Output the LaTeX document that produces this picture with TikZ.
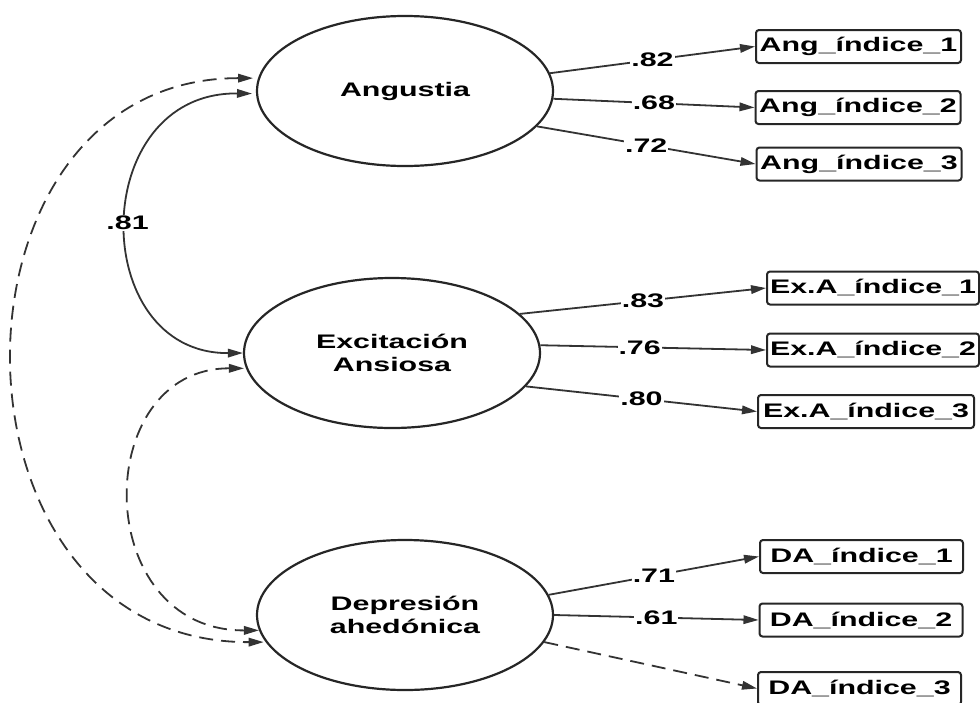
\documentclass[tikz,border=0pt]{standalone}
\usepackage{fontspec}
\setmainfont[FakeStretch=1.55]{Liberation Sans}
\usetikzlibrary{shapes.geometric,arrows.meta}
\begin{document}
\begin{tikzpicture}[x=1pt,y=-1pt,
  txt/.style={font=\bfseries\fontsize{19.6}{23}\selectfont},
  latent/.style={ellipse,draw=black!85,line width=2.2pt,minimum width=296pt,
    minimum height=150pt,inner sep=0pt,align=center,txt},
  ind/.style={draw=black!85,line width=2pt,rounded corners=3pt,
    minimum height=33pt,inner sep=0pt,txt},
  tip/.tip={Triangle[length=15pt,width=8.5pt]},
  load/.style={draw=black!80,line width=1.8pt,-tip},
  cov/.style={draw=black!80,line width=1.8pt,tip-tip},
  dsh/.style={dash pattern=on 14pt off 8pt},
  coef/.style={fill=white,inner sep=1pt,txt}
]
\useasboundingbox (0,0) rectangle (980,702);

% latent factors
\node[latent] (ang) at (405,91) {Angustia};
\node[latent] (exc) at (392,353) {Excitación\\Ansiosa};
\node[latent] (dep) at (405,615) {Depresión\\ahedónica};

% indicators
\node[ind,minimum width=205pt] (a1) at (858.5,46.5) {Ang\_índice\_1};
\node[ind,minimum width=205pt] (a2) at (858,107.5) {Ang\_índice\_2};
\node[ind,minimum width=205pt] (a3) at (859,164) {Ang\_índice\_3};
\node[ind,minimum width=212pt] (e1) at (873,288) {Ex.A\_índice\_1};
\node[ind,minimum width=212pt] (e2) at (873,350) {Ex.A\_índice\_2};
\node[ind,minimum width=216pt] (e3) at (866,411.5) {Ex.A\_índice\_3};
\node[ind,minimum width=203pt] (d1) at (861.5,556.5) {DA\_índice\_1};
\node[ind,minimum width=203pt] (d2) at (861,620) {DA\_índice\_2};
\node[ind,minimum width=203pt] (d3) at (859.5,688.5) {DA\_índice\_3};

% factor loadings
\draw[load] (ang.7.7) -- node[coef] {.82} (a1.west);
\draw[load] (ang.-3) -- node[coef] {.68} (a2.west);
\draw[load] (ang.-15.7) -- node[coef] {.72} (a3.west);
\draw[load] (exc.17.8) -- node[coef] {.83} (e1.west);
\draw[load] (exc.3.8) -- node[coef,pos=0.44] {.76} (e2.west);
\draw[load] (exc.-14.1) -- node[coef] {.80} (e3.west);
\draw[load] (dep.8.6) -- node[coef] {.71} (d1.west);
\draw[load] (dep.-0.8) -- node[coef] {.61} (d2.west);
\draw[load,dsh] (dep.-11.2) -- (d3.west);

% factor covariances
\draw[cov,shorten <=4pt] (ang.181) .. controls (87,92) and (87,354) ..
  node[coef] {.81} (exc.180);
\draw[cov,dsh,shorten <=2pt] (exc.186) .. controls (90,368) and (90,631) .. (dep.186);
\draw[cov,dsh,shorten <=5pt,shorten >=2pt] (ang.175) .. controls (-68,78) and (-68,643) .. (dep.191);
\end{tikzpicture}
\end{document}
